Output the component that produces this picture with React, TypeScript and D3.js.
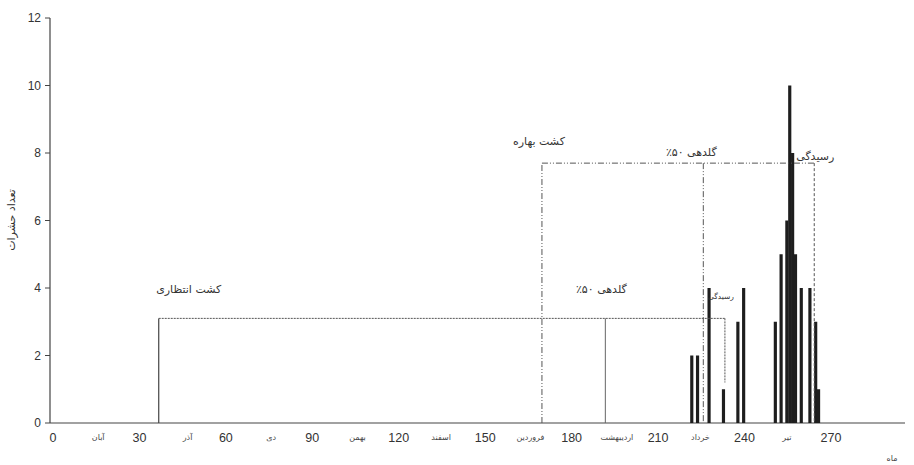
import React from "react";
import * as d3 from "d3";

const xTicks = [0, 30, 60, 90, 120, 150, 180, 210, 240, 270];
const yTicks = [0, 2, 4, 6, 8, 10, 12];
const monthNames = ["آبان", "آذر", "دی", "بهمن", "اسفند", "فروردین", "اردیبهشت", "خرداد", "تیر"];
const monthPos = [15, 46, 75, 105, 134, 165, 195, 224, 254];

const barDays = [221, 223, 227, 232, 237, 239, 250, 252, 254, 255, 256, 257, 259, 262, 264, 265];
const barValues = [2, 2, 4, 1, 3, 4, 3, 5, 6, 10, 8, 5, 4, 4, 3, 1];

// waiting (late) planting period
const waitStart = 36;
const waitEnd = 232.5;
const waitLevel = 3.1;
const waitEndLow = 1.2;
const waitFlower = 191;

// spring planting period
const springStart = 169;
const springEnd = 263.5;
const springLevel = 7.7;
const springFlower = 225;

const flowerLabel = "گلدهی \u202D٪۵۰\u202C";

const W = 914;
const H = 465;

export default function App() {
  const x = d3.scaleLinear().domain([0, 295]).range([55, 905]);
  const y = d3.scaleLinear().domain([0, 12]).range([423, 18]);
  const bw = (x(1) - x(0)) * 1.1;
  const font = "'Liberation Sans', 'DejaVu Sans', Arial, sans-serif";
  const fa = "'DejaVu Sans', sans-serif";
  const lineCol = "#555";
  const y0 = y(0);

  return (
    <svg width={W} height={H} style={{ position: "absolute", left: 0, top: 0, background: "#fff" }}>
      {/* y axis */}
      <line x1={x(0) - 5} x2={x(0) - 5} y1={y(12)} y2={y0} stroke="#444" strokeWidth={1.2} />
      {yTicks.map((t) => (
        <g key={t}>
          <line x1={x(0) - 10} x2={x(0) - 5} y1={y(t)} y2={y(t)} stroke="#444" strokeWidth={1} />
          <text x={x(0) - 14} y={y(t)} dy="0.35em" textAnchor="end" fontFamily={font} fontSize={12} fill="#333">
            {t}
          </text>
        </g>
      ))}
      {/* x axis */}
      <line x1={x(0) - 5} x2={x(295)} y1={y0} y2={y0} stroke="#444" strokeWidth={1.2} />
      {xTicks.map((t) => (
        <text key={t} x={x(t) - 2} y={y0 + 19} textAnchor="middle" fontFamily={font} fontSize={12.5} fill="#333">
          {t}
        </text>
      ))}
      {monthNames.map((m, i) => (
        <text key={m} x={x(monthPos[i])} y={y0 + 17} textAnchor="middle" direction="rtl" fontFamily={fa} fontSize={8} fill="#444">
          {m}
        </text>
      ))}
      <text x={892} y={461} textAnchor="middle" fontFamily={fa} fontSize={8} fill="#444">
        ماه
      </text>
      <text
        transform={`translate(15, 220) rotate(-90)`}
        textAnchor="middle"
        fontFamily={fa}
        fontSize={11}
        fill="#333"
      >
        تعداد حشرات
      </text>

      {/* bars */}
      {barDays.map((d, i) => (
        <rect key={d} x={x(d) - bw / 2} y={y(barValues[i])} width={bw} height={y0 - y(barValues[i])} fill="#1e1e1e" />
      ))}

      {/* waiting planting box */}
      <line x1={x(waitStart)} x2={x(waitStart)} y1={y0} y2={y(waitLevel)} stroke="#444" strokeWidth={1.2} />
      <line x1={x(waitStart)} x2={x(waitEnd)} y1={y(waitLevel)} y2={y(waitLevel)} stroke={lineCol} strokeWidth={1} strokeDasharray="2,1" />
      <line x1={x(waitEnd)} x2={x(waitEnd)} y1={y(waitLevel)} y2={y(waitEndLow)} stroke={lineCol} strokeWidth={1} strokeDasharray="2,1" />
      <line x1={x(waitFlower)} x2={x(waitFlower)} y1={y(waitLevel)} y2={y0} stroke="#666" strokeWidth={1} />

      {/* spring planting box */}
      <line x1={x(springStart)} x2={x(springStart)} y1={y0} y2={y(springLevel)} stroke={lineCol} strokeWidth={1} strokeDasharray="6,2,1,2,1,2" />
      <line x1={x(springStart)} x2={x(springEnd)} y1={y(springLevel)} y2={y(springLevel)} stroke={lineCol} strokeWidth={1} strokeDasharray="6,2,1,2,1,2" />
      <line x1={x(springFlower)} x2={x(springFlower)} y1={y(springLevel)} y2={y0} stroke={lineCol} strokeWidth={1} strokeDasharray="6,2,1,2,1,2" />
      <line x1={x(springEnd)} x2={x(springEnd)} y1={y(springLevel)} y2={y0} stroke={lineCol} strokeWidth={1} strokeDasharray="3,2" />

      {/* annotations */}
      <text x={x(waitStart) + 30} y={y(waitLevel) - 25} textAnchor="middle" direction="rtl" fontFamily={fa} fontSize={11} fill="#333">
        کشت انتظاری
      </text>
      <text x={x(waitFlower) - 4} y={y(waitLevel) - 25} textAnchor="middle" direction="rtl" fontFamily={fa} fontSize={11} fill="#333">
        {flowerLabel}
      </text>
      <text x={x(waitEnd) - 4} y={y(waitLevel) - 19} textAnchor="middle" direction="rtl" fontFamily={fa} fontSize={7.5} fill="#333">
        رسیدگی
      </text>
      <text x={x(springStart) - 3} y={y(springLevel) - 18} textAnchor="middle" direction="rtl" fontFamily={fa} fontSize={11} fill="#333">
        کشت بهاره
      </text>
      <text x={x(springFlower) - 12} y={y(springLevel) - 7} textAnchor="middle" direction="rtl" fontFamily={fa} fontSize={11} fill="#333">
        {flowerLabel}
      </text>
      <text x={x(springEnd) + 1} y={y(springLevel) - 3} textAnchor="middle" direction="rtl" fontFamily={fa} fontSize={11} fill="#333">
        رسیدگی
      </text>
    </svg>
  );
}
